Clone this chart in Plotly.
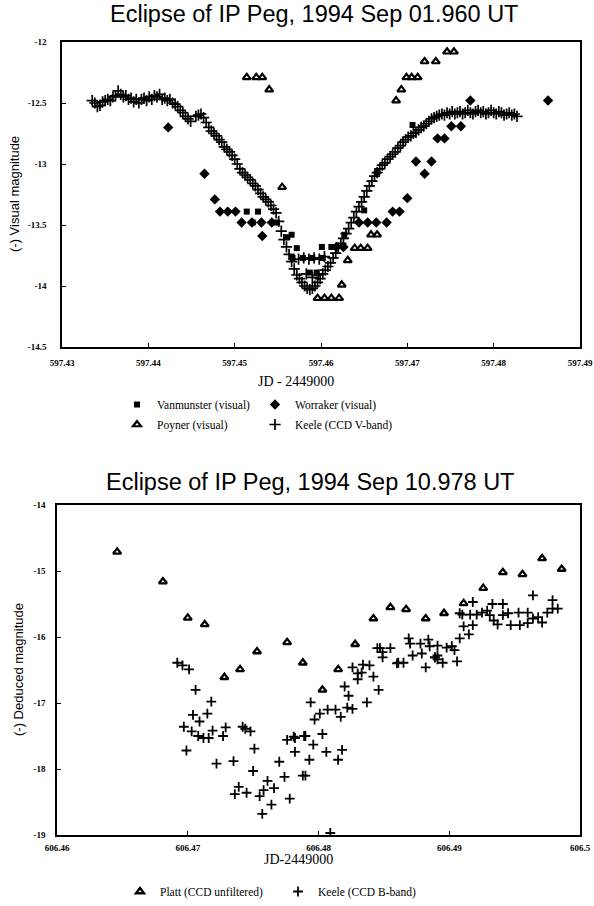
import plotly.graph_objects as go

# ---------------- Top chart data (JD - 2449000, visual magnitude) ----------------
top_title = "Eclipse of IP Peg, 1994 Sep 01.960 UT"
top_xticks = [597.43, 597.44, 597.45, 597.46, 597.47, 597.48, 597.49]
top_xticktext = ["597.43", "597.44", "597.45", "597.46", "597.47", "597.48", "597.49"]
top_yticks = [-12, -12.5, -13, -13.5, -14, -14.5]
top_yticktext = ["-12", "-12.5", "-13", "-13.5", "-14", "-14.5"]

vanmunster_x = [597.4514, 597.4527, 597.4521, 597.4549, 597.4561, 597.4572, 597.4601, 597.4612,
                597.4567, 597.4579, 597.4590, 597.4602, 597.4587, 597.4595, 597.4627, 597.4650,
                597.4665, 597.4706, 597.4566]
vanmunster_y = [-13.39, -13.39, -13.48, -13.48, -13.60, -13.69, -13.68, -13.68,
                -13.77, -13.77, -13.77, -13.77, -13.89, -13.89, -13.58, -13.38,
                -13.07, -12.68, -13.58]

worraker_x = [597.4423, 597.4465, 597.4477, 597.4483, 597.4492, 597.4501, 597.4508, 597.4520,
              597.4531, 597.4543, 597.4532, 597.4618, 597.4626, 597.4644, 597.4654, 597.4664,
              597.4676, 597.4683, 597.4691, 597.4700, 597.4710, 597.4728, 597.4720, 597.4735,
              597.4743, 597.4751, 597.4762, 597.4773, 597.4863]
worraker_y = [-12.70, -13.08, -13.29, -13.39, -13.39, -13.39, -13.48, -13.48,
              -13.48, -13.48, -13.59, -13.68, -13.68, -13.48, -13.48, -13.48,
              -13.48, -13.39, -13.39, -13.28, -12.98, -12.98, -13.08, -12.79,
              -12.79, -12.69, -12.69, -12.48, -12.48]

poyner_x = [597.4514, 597.4525, 597.4532, 597.4540, 597.4555, 597.4596, 597.4604, 597.4612,
            597.4621, 597.4624, 597.4631, 597.4639, 597.4646, 597.4654, 597.4658, 597.4665,
            597.4687, 597.4693, 597.4699, 597.4705, 597.4712, 597.4720, 597.4733, 597.4746,
            597.4754]
poyner_y = [-12.29, -12.29, -12.29, -12.39, -13.19, -14.10, -14.10, -14.10,
            -14.10, -13.99, -13.79, -13.69, -13.69, -13.69, -13.58, -13.58,
            -12.48, -12.39, -12.29, -12.29, -12.29, -12.16, -12.16, -12.08,
            -12.08]

keele_v_x = [597.4335, 597.4338, 597.4341, 597.4344, 597.4347, 597.4350, 597.4353, 597.4356,
             597.4359, 597.4362, 597.4365, 597.4368, 597.4371, 597.4374, 597.4377, 597.4380,
             597.4383, 597.4386, 597.4389, 597.4392, 597.4395, 597.4398, 597.4401, 597.4404,
             597.4407, 597.4410, 597.4413, 597.4416, 597.4419, 597.4422, 597.4425, 597.4428,
             597.4431, 597.4434, 597.4437, 597.4440, 597.4443, 597.4446, 597.4449,
             597.4455, 597.4458, 597.4461, 597.4464, 597.4467, 597.4470, 597.4473, 597.4476,
             597.4479, 597.4482, 597.4485, 597.4488, 597.4491, 597.4494, 597.4497, 597.4500,
             597.4503, 597.4506, 597.4509, 597.4512, 597.4515, 597.4518, 597.4521, 597.4524,
             597.4527, 597.4530, 597.4533, 597.4536, 597.4539, 597.4542, 597.4545, 597.4548,
             597.4551, 597.4554, 597.4557, 597.4560, 597.4563, 597.4566, 597.4569, 597.4572,
             597.4575, 597.4578, 597.4581, 597.4584, 597.4587, 597.4590, 597.4593, 597.4596,
             597.4599, 597.4602, 597.4605, 597.4608, 597.4611, 597.4614, 597.4617, 597.4620,
             597.4623, 597.4626, 597.4629, 597.4632, 597.4635, 597.4638, 597.4641, 597.4644,
             597.4647, 597.4650, 597.4653, 597.4656, 597.4659, 597.4662, 597.4665, 597.4668,
             597.4671, 597.4674, 597.4677, 597.4680, 597.4683, 597.4686, 597.4689, 597.4692,
             597.4695, 597.4698, 597.4701, 597.4704, 597.4707, 597.4710, 597.4713, 597.4716,
             597.4719, 597.4722, 597.4725, 597.4728, 597.4731, 597.4734, 597.4737, 597.4740,
             597.4743, 597.4746, 597.4749, 597.4752, 597.4755, 597.4758, 597.4761, 597.4764,
             597.4767, 597.4770, 597.4773, 597.4776, 597.4779, 597.4782, 597.4785, 597.4788,
             597.4791, 597.4794, 597.4797, 597.4800, 597.4803, 597.4806, 597.4809, 597.4812,
             597.4815, 597.4818, 597.4821, 597.4824, 597.4827,
             597.4574, 597.4580, 597.4586, 597.4592, 597.4598, 597.4604, 597.4583, 597.4590,
             597.4597]
keele_v_y = [-12.48, -12.50, -12.53, -12.52, -12.49, -12.48, -12.47, -12.48,
             -12.45, -12.44, -12.40, -12.43, -12.45, -12.44, -12.47, -12.46,
             -12.49, -12.47, -12.50, -12.47, -12.46, -12.48, -12.45, -12.47,
             -12.44, -12.45, -12.43, -12.47, -12.46, -12.48, -12.47, -12.50,
             -12.51, -12.53, -12.56, -12.58, -12.61, -12.63, -12.65,
             -12.61, -12.60, -12.59, -12.62, -12.66, -12.70, -12.73, -12.75,
             -12.77, -12.80, -12.82, -12.86, -12.88, -12.90, -12.93, -12.96,
             -13.00, -13.04, -13.07, -13.09, -13.11, -13.13, -13.16, -13.18,
             -13.21, -13.24, -13.27, -13.29, -13.31, -13.34, -13.37, -13.40,
             -13.47, -13.55, -13.62, -13.68, -13.74, -13.80, -13.86, -13.91,
             -13.94, -13.97, -14.00, -14.02, -14.03, -14.02, -14.00, -13.97,
             -13.94, -13.90, -13.87, -13.84, -13.81, -13.77, -13.73, -13.69,
             -13.65, -13.61, -13.57, -13.53, -13.48, -13.44, -13.39, -13.35,
             -13.31, -13.27, -13.22, -13.18, -13.14, -13.10, -13.07, -13.04,
             -13.01, -12.99, -12.96, -12.94, -12.92, -12.90, -12.87, -12.85,
             -12.82, -12.80, -12.78, -12.77, -12.75, -12.74, -12.72, -12.70,
             -12.69, -12.67, -12.65, -12.63, -12.62, -12.61, -12.60, -12.59,
             -12.60, -12.58, -12.59, -12.57, -12.59, -12.58, -12.57, -12.59,
             -12.58, -12.56, -12.58, -12.59, -12.57, -12.56, -12.58, -12.57,
             -12.59, -12.58, -12.56, -12.58, -12.59, -12.57, -12.58, -12.60,
             -12.59, -12.58, -12.60, -12.59, -12.61,
             -13.78, -13.77, -13.78, -13.77, -13.78, -13.76, -13.90, -13.93,
             -13.91]

# ---------------- Bottom chart data (JD - 2449000, deduced magnitude) ----------------
bot_title = "Eclipse of IP Peg, 1994 Sep 10.978 UT"
bot_xticks = [606.46, 606.47, 606.48, 606.49, 606.50]
bot_xticktext = ["606.46", "606.47", "606.48", "606.49", "606.5"]
bot_yticks = [-14, -15, -16, -17, -18, -19]
bot_yticktext = ["-14", "-15", "-16", "-17", "-18", "-19"]

platt_x = [606.4646, 606.4681, 606.4700, 606.4713, 606.4728, 606.4740, 606.4753, 606.4776,
           606.4788, 606.4803, 606.4815, 606.4828, 606.4842, 606.4855, 606.4867, 606.4882,
           606.4896, 606.4911, 606.4926, 606.4941, 606.4956, 606.4971, 606.4986]
platt_y = [-14.71, -15.16, -15.71, -15.81, -16.61, -16.49, -16.22, -16.08,
           -16.39, -16.80, -16.49, -16.11, -15.72, -15.55, -15.58, -15.72,
           -15.64, -15.49, -15.26, -15.02, -15.05, -14.81, -14.97]

keele_b_x = [606.4692, 606.4696, 606.4701, 606.4706, 606.4718, 606.4704, 606.4709, 606.4715,
             606.4697, 606.4703, 606.4708, 606.4712, 606.4716, 606.4719, 606.4727, 606.4729,
             606.4699, 606.4722, 606.4735, 606.4742, 606.4744, 606.4748, 606.4751, 606.4750,
             606.4739, 606.4736, 606.4745, 606.4755, 606.4758, 606.4761, 606.4766, 606.4764,
             606.4757, 606.4778, 606.4774, 606.4770, 606.4776, 606.4781, 606.4782, 606.4789,
             606.4788, 606.4790, 606.4793, 606.4796, 606.4803, 606.4806, 606.4815, 606.4818,
             606.4797, 606.4801, 606.4807, 606.4813, 606.4817, 606.4794, 606.4822, 606.4826,
             606.4823, 606.4820, 606.4837, 606.4846, 606.4842, 606.4830, 606.4830, 606.4833,
             606.4826, 606.4834, 606.4839, 606.4845, 606.4849, 606.4855, 606.4861, 606.4865,
             606.4872, 606.4879, 606.4882, 606.4870, 606.4891, 606.4895, 606.4885, 606.4891,
             606.4869, 606.4884, 606.4889, 606.4898, 606.4902, 606.4904, 606.4906, 606.4908,
             606.4915, 606.4911, 606.4918, 606.4910, 606.4916, 606.4921, 606.4925, 606.4929,
             606.4931, 606.4934, 606.4937, 606.4941, 606.4945, 606.4947, 606.4954, 606.4953,
             606.4960, 606.4960, 606.4964, 606.4968, 606.4971, 606.4975, 606.4979, 606.4983,
             606.4918, 606.4933, 606.4941, 606.4964, 606.4979, 606.4908, 606.4809, 606.4847,
             606.4849, 606.4860, 606.4878, 606.4889, 606.4891, 606.4782, 606.4790]
keele_b_y = [-16.39, -16.43, -16.49, -16.80, -16.98, -17.18, -17.28, -17.16,
             -17.36, -17.43, -17.50, -17.53, -17.53, -17.42, -17.50, -17.37,
             -17.72, -17.92, -17.88, -17.36, -17.39, -17.43, -17.69, -18.03,
             -18.27, -18.38, -18.36, -18.41, -18.32, -18.18, -18.29, -18.54,
             -18.68, -18.45, -18.12, -17.89, -17.56, -17.51, -17.74, -17.50,
             -18.10, -18.10, -17.86, -17.63, -17.47, -17.74, -17.86, -17.71,
             -17.25, -17.16, -17.10, -17.10, -17.21, -16.99, -17.07, -17.09,
             -16.89, -16.75, -16.99, -16.80, -16.60, -16.64, -16.55, -16.54,
             -16.46, -16.42, -16.43, -16.17, -16.23, -16.17, -16.39, -16.39,
             -16.28, -16.25, -16.46, -16.10, -16.28, -16.39, -16.14, -16.13,
             -16.02, -16.04, -16.31, -16.16, -16.14, -16.20, -16.37, -16.02,
             -15.96, -15.84, -15.82, -15.66, -15.66, -15.66, -15.63, -15.60,
             -15.67, -15.75, -15.81, -15.67, -15.64, -15.82, -15.82, -15.63,
             -15.63, -15.79, -15.72, -15.70, -15.78, -15.63, -15.57, -15.57,
             -15.47, -15.50, -15.50, -15.37, -15.44, -15.64, -18.97, -16.17,
             -16.31, -16.40, -16.10, -16.31, -16.34, -17.53, -17.50]

# ---------------- Figure ----------------
W, H = 594, 906
SERIF = "Liberation Serif, Times New Roman, serif"
SANS = "Liberation Sans, Arial, sans-serif"
BLACK = "black"

fig = go.Figure()

# top chart traces
fig.add_trace(go.Scatter(x=vanmunster_x, y=vanmunster_y, mode="markers", name="Vanmunster (visual)",
                         marker=dict(symbol="square", size=6, color=BLACK), xaxis="x", yaxis="y",
                         legend="legend"))
fig.add_trace(go.Scatter(x=worraker_x, y=worraker_y, mode="markers", name="Worraker (visual)",
                         marker=dict(symbol="diamond", size=8, color=BLACK), xaxis="x", yaxis="y",
                         legend="legend"))
fig.add_trace(go.Scatter(x=poyner_x, y=poyner_y, mode="markers", name="Poyner (visual)",
                         marker=dict(symbol="triangle-up-open", size=7, color=BLACK, line=dict(width=2.2)),
                         xaxis="x", yaxis="y", legend="legend3"))
fig.add_trace(go.Scatter(x=keele_v_x, y=keele_v_y, mode="markers", name="Keele (CCD V-band)",
                         marker=dict(symbol="cross-thin", size=8, color=BLACK, line=dict(width=1.7, color=BLACK)),
                         xaxis="x", yaxis="y", legend="legend3"))

# bottom chart traces
fig.add_trace(go.Scatter(x=platt_x, y=platt_y, mode="markers", name="Platt (CCD unfiltered)",
                         marker=dict(symbol="triangle-up-open", size=7, color=BLACK, line=dict(width=2.3)),
                         xaxis="x2", yaxis="y2", legend="legend2"))
fig.add_trace(go.Scatter(x=keele_b_x, y=keele_b_y, mode="markers", name="Keele (CCD B-band)",
                         marker=dict(symbol="cross-thin", size=7, color=BLACK, line=dict(width=1.8, color=BLACK)),
                         xaxis="x2", yaxis="y2", legend="legend2"))


def axis_common(**kw):
    d = dict(showgrid=False, zeroline=False, showline=True, mirror=True, linecolor=BLACK,
             linewidth=1.6, ticks="inside", ticklen=4, tickwidth=1.2, tickcolor=BLACK,
             automargin=False,
             tickfont=dict(family=SERIF, size=9, color=BLACK, weight="bold"))
    d.update(kw)
    return d


legend_font = dict(family=SERIF, size=11.5, color=BLACK)

fig.update_layout(
    template="none",
    width=W, height=H,
    autosize=False,
    margin=dict(l=0, r=0, t=0, b=0, pad=0, autoexpand=False),
    paper_bgcolor="white", plot_bgcolor="white",
    showlegend=True,
    xaxis=axis_common(domain=[62 / W, 580 / W], range=[597.43, 597.49], tickvals=top_xticks,
                      ticktext=top_xticktext, anchor="y", ticklabelstandoff=6),
    yaxis=axis_common(domain=[1 - 347 / H, 1 - 42 / H], range=[-14.5, -12], tickvals=top_yticks,
                      ticktext=top_yticktext, anchor="x", ticklabelstandoff=12),
    xaxis2=axis_common(domain=[57 / W, 580 / W], range=[606.46, 606.50], tickvals=bot_xticks,
                       ticktext=bot_xticktext, anchor="y2", ticklabelstandoff=3),
    yaxis2=axis_common(domain=[1 - 835 / H, 1 - 505 / H], range=[-19, -14], tickvals=bot_yticks,
                       ticktext=bot_yticktext, anchor="x2", ticklabelstandoff=8),
    legend=dict(orientation="h", x=117 / W, y=1 - 390 / H, xanchor="left", yanchor="top",
                entrywidth=93, entrywidthmode="pixels", bgcolor="rgba(0,0,0,0)",
                font=legend_font, tracegroupgap=0, borderwidth=0),
    legend3=dict(orientation="h", x=117 / W, y=1 - 410 / H, xanchor="left", yanchor="top",
                 entrywidth=93, entrywidthmode="pixels", bgcolor="rgba(0,0,0,0)",
                 font=legend_font, tracegroupgap=0, borderwidth=0),
    legend2=dict(orientation="h", x=120 / W, y=1 - 877 / H, xanchor="left", yanchor="top",
                 entrywidth=113, entrywidthmode="pixels", bgcolor="rgba(0,0,0,0)",
                 font=legend_font, tracegroupgap=0, borderwidth=0),
    annotations=[
        dict(text=top_title, x=314 / W, y=1 - 14 / H, xref="paper", yref="paper", showarrow=False,
             xanchor="center", yanchor="middle", font=dict(family=SANS, size=23.5, color=BLACK)),
        dict(text=bot_title, x=310 / W, y=1 - 482 / H, xref="paper", yref="paper", showarrow=False,
             xanchor="center", yanchor="middle", font=dict(family=SANS, size=23.5, color=BLACK)),
        dict(text="JD - 2449000", x=296 / W, y=1 - 381 / H, xref="paper", yref="paper", showarrow=False,
             xanchor="center", yanchor="middle", font=dict(family=SERIF, size=14, color=BLACK)),
        dict(text="JD-2449000", x=298 / W, y=1 - 859 / H, xref="paper", yref="paper", showarrow=False,
             xanchor="center", yanchor="middle", font=dict(family=SERIF, size=14, color=BLACK)),
        dict(text="(-) Visual magnitude", x=15 / W, y=1 - 194 / H, xref="paper", yref="paper",
             showarrow=False, textangle=-90, xanchor="center", yanchor="middle",
             font=dict(family=SANS, size=13, color=BLACK)),
        dict(text="(-) Deduced magnitude", x=18 / W, y=1 - 670 / H, xref="paper", yref="paper",
             showarrow=False, textangle=-90, xanchor="center", yanchor="middle",
             font=dict(family=SANS, size=13, color=BLACK)),
    ],
)

fig.write_html("out.html", config={"displayModeBar": False},
               post_script="document.body.style.margin='0px';")
